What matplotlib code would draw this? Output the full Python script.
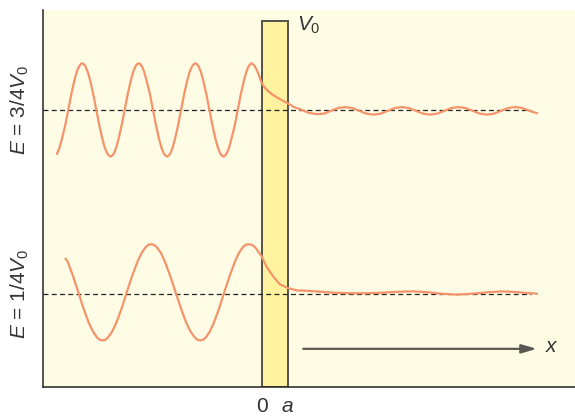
import matplotlib
matplotlib.use("Agg")
import matplotlib.pyplot as plt

plt.rcParams['font.family'] = ['Liberation Sans', 'DejaVu Sans']
plt.rcParams['mathtext.fontset'] = 'custom'
plt.rcParams['mathtext.rm'] = 'Liberation Sans'
plt.rcParams['mathtext.it'] = 'Liberation Sans:italic'

# barrier from x = 0 to x = a (a = 1), height V0
barrier_left = 0.0
barrier_width = 1.0
barrier_height = 7.77

# energy levels (dashed lines)
levels = [5.88, 1.98]
level_labels = ["$E$ = 3/4$V_0$", "$E$ = 1/4$V_0$"]
dash_end = 10.35

# E = 3/4 V0 wave
upper_x = [-7.87, -7.78, -7.69, -7.56, -7.44, -7.32, -7.20, -7.11, -7.02, -6.96, -6.90,
           -6.84, -6.78, -6.69, -6.60, -6.48, -6.36, -6.24, -6.12, -6.03, -5.93, -5.87, -5.81,
           -5.75, -5.69, -5.60, -5.51, -5.39, -5.27, -5.15, -5.03, -4.94, -4.85, -4.79, -4.73,
           -4.67, -4.61, -4.52, -4.43, -4.30, -4.18, -4.06, -3.94, -3.85, -3.76, -3.70, -3.64,
           -3.58, -3.52, -3.43, -3.34, -3.22, -3.10, -2.98, -2.86, -2.77, -2.67, -2.61, -2.55,
           -2.49, -2.43, -2.34, -2.25, -2.13, -2.01, -1.89, -1.77, -1.68, -1.59, -1.53, -1.47,
           -1.41, -1.35, -1.26, -1.17, -1.04, -0.92, -0.80, -0.68, -0.59, -0.50, -0.44, -0.38,
           -0.28, -0.19, -0.09, 0.00, 0.10, 0.19, 0.35, 0.60, 0.80, 1.00, 1.25, 1.50, 1.80,
           2.12, 2.39, 2.67, 2.94, 3.21, 3.48, 3.76, 4.03, 4.30, 4.57, 4.85, 5.12, 5.39,
           5.66, 5.94, 6.21, 6.48, 6.75, 7.03, 7.30, 7.57, 7.84, 8.12, 8.39, 8.66,
           8.93, 9.21, 9.48, 9.75, 10.02, 10.30, 10.58]
upper_y = [4.95, 5.07, 5.25, 5.54, 5.88, 6.22, 6.51, 6.69, 6.81, 6.85, 6.87,
           6.85, 6.81, 6.69, 6.51, 6.22, 5.88, 5.54, 5.25, 5.07, 4.95, 4.91, 4.89,
           4.91, 4.95, 5.07, 5.25, 5.54, 5.88, 6.22, 6.51, 6.69, 6.81, 6.85, 6.87,
           6.85, 6.81, 6.69, 6.51, 6.22, 5.88, 5.54, 5.25, 5.07, 4.95, 4.91, 4.89,
           4.91, 4.95, 5.07, 5.25, 5.54, 5.88, 6.22, 6.51, 6.69, 6.81, 6.85, 6.87,
           6.85, 6.81, 6.69, 6.51, 6.22, 5.88, 5.54, 5.25, 5.07, 4.95, 4.91, 4.89,
           4.91, 4.95, 5.07, 5.25, 5.54, 5.88, 6.22, 6.51, 6.69, 6.81, 6.85, 6.87,
           6.82, 6.73, 6.59, 6.45, 6.36, 6.31, 6.23, 6.14, 6.08, 6.02, 5.94, 5.89, 5.82,
           5.79, 5.80, 5.86, 5.92, 5.94, 5.92, 5.86, 5.80, 5.78, 5.80, 5.86, 5.92, 5.94,
           5.92, 5.86, 5.80, 5.78, 5.80, 5.86, 5.92, 5.94, 5.92, 5.86, 5.80, 5.78,
           5.80, 5.86, 5.92, 5.94, 5.92, 5.86, 5.81]

# E = 1/4 V0 wave
lower_x = [-7.54, -7.47, -7.26, -7.05, -6.85, -6.64, -6.48, -6.33, -6.22, -6.12,
           -6.02, -5.91, -5.76, -5.60, -5.39, -5.19, -4.98, -4.77, -4.61, -4.46, -4.35, -4.25,
           -4.15, -4.04, -3.88, -3.73, -3.52, -3.31, -3.10, -2.89, -2.73, -2.57, -2.47, -2.36,
           -2.26, -2.15, -2.00, -1.85, -1.64, -1.44, -1.23, -1.02, -0.87, -0.72, -0.61, -0.51,
           -0.40, -0.30, -0.20, -0.10, 0.00, 0.19, 0.45, 0.70, 1.00, 1.35, 1.80, 2.30,
           2.80, 3.40, 4.00, 4.60, 5.20, 5.82, 6.40, 6.90, 7.50, 8.10, 8.70, 9.28, 9.90, 10.58]
lower_y = [2.72, 2.67, 2.36, 2.01, 1.66, 1.35, 1.17, 1.05, 1.00, 0.99,
           1.00, 1.05, 1.17, 1.35, 1.66, 2.01, 2.36, 2.67, 2.85, 2.97, 3.02, 3.03,
           3.02, 2.97, 2.85, 2.67, 2.36, 2.01, 1.66, 1.35, 1.17, 1.05, 1.00, 0.99,
           1.00, 1.05, 1.17, 1.35, 1.66, 2.01, 2.36, 2.67, 2.85, 2.97, 3.02, 3.03,
           3.02, 2.99, 2.93, 2.85, 2.77, 2.55, 2.34, 2.18, 2.10, 2.05, 2.04, 2.02,
           2.00, 1.99, 1.99, 2.00, 2.02, 2.03, 2.01, 1.98, 1.96, 1.98, 2.01, 2.03, 2.01, 1.98]

# direction arrow
arrow_start = 1.6
arrow_end = 10.58
arrow_y = 0.81

bg = '#fffce6'
barrier_color = '#fff3a0'
wave_color = '#f5946a'
text_color = '#333333'

fig = plt.figure(figsize=(5.75, 4.17), dpi=100)
ax = fig.add_axes([43 / 575, 30 / 417, 532 / 575, 377 / 417])
ax.set_facecolor(bg)
ax.set_xlim(-8.41, 12.05)
ax.set_ylim(0, 8)

ax.bar(barrier_left + barrier_width / 2, barrier_height, width=barrier_width,
       color=barrier_color, edgecolor='#55524a', linewidth=1.4, zorder=2)

for lev in levels:
    ax.plot([-8.41, dash_end], [lev, lev], color='#222222', lw=0.9,
            linestyle=(0, (4, 2.6)), zorder=3)

ax.plot(upper_x, upper_y, color=wave_color, lw=1.6, zorder=4, solid_joinstyle='round')
ax.plot(lower_x, lower_y, color=wave_color, lw=1.6, zorder=4, solid_joinstyle='round')

ax.annotate('', xy=(arrow_end, arrow_y), xytext=(arrow_start, arrow_y),
            arrowprops=dict(arrowstyle='-|>,head_length=0.75,head_width=0.22',
                            color='#5a5750', lw=1.6, shrinkA=0, shrinkB=0,
                            mutation_scale=12))
ax.text(arrow_end + 0.3, arrow_y + 0.04, '$x$', fontsize=15, color=text_color,
        ha='left', va='center')

ax.text(barrier_width + 0.35, 7.68, '$V_0$', fontsize=15, color=text_color,
        ha='left', va='center')

for lev, lab in zip(levels, level_labels):
    ax.text(-0.043, lev, lab, transform=ax.get_yaxis_transform(), rotation=90,
            fontsize=15, color=text_color, ha='center', va='center')

ax.set_xticks([barrier_left, barrier_left + barrier_width])
ax.set_xticklabels(['0', '$a$'], fontsize=15, color=text_color)
ax.tick_params(axis='x', length=0, pad=7)
ax.set_yticks([])

for side in ['top', 'right']:
    ax.spines[side].set_visible(False)
for side in ['left', 'bottom']:
    ax.spines[side].set_color('#222222')
    ax.spines[side].set_linewidth(1.1)

fig.savefig('out.png', dpi=100)
